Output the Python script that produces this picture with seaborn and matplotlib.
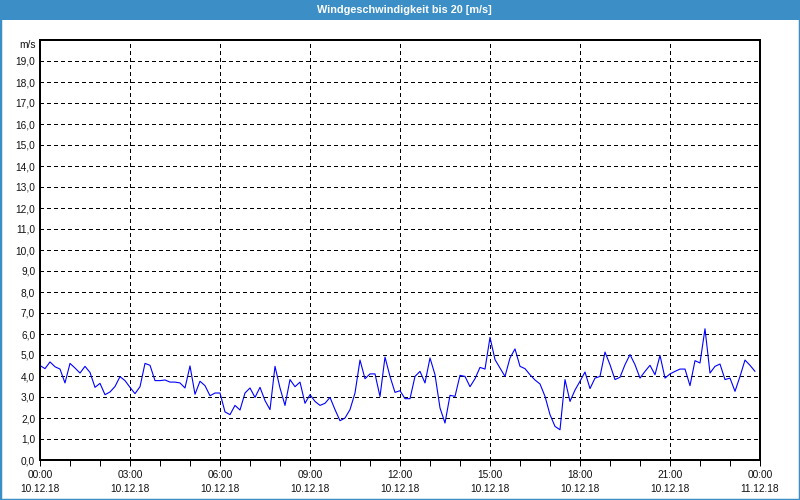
import numpy as np
import pandas as pd
import matplotlib
matplotlib.use("Agg")
import matplotlib.pyplot as plt
import matplotlib.dates as mdates
from matplotlib.patches import Rectangle
from matplotlib.ticker import FuncFormatter, MultipleLocator
import seaborn as sns

# ---- data ----
title = "Windgeschwindigkeit bis 20 [m/s]"
unit_label = "m/s"
start_time = "2018-12-10 00:00"
end_time = "2018-12-11 00:00"
interval = "10min"
speed = [
    4.50, 4.35, 4.67, 4.44, 4.33, 3.67, 4.60, 4.38, 4.14, 4.46, 4.17, 3.46,
    3.65, 3.11, 3.24, 3.50, 3.97, 3.78, 3.46, 3.16, 3.49, 4.60, 4.51, 3.78,
    3.78, 3.81, 3.71, 3.71, 3.67, 3.43, 4.48, 3.13, 3.75, 3.54, 3.06, 3.19,
    3.19, 2.29, 2.16, 2.60, 2.38, 3.19, 3.43, 2.98, 3.46, 2.83, 2.40, 4.46,
    3.43, 2.60, 3.83, 3.49, 3.71, 2.70, 3.11, 2.79, 2.60, 2.70, 2.98, 2.40,
    1.87, 2.00, 2.40, 3.19, 4.76, 3.87, 4.10, 4.10, 3.02, 4.90, 3.98, 3.22,
    3.30, 2.92, 2.92, 3.98, 4.22, 3.67, 4.86, 4.06, 2.48, 1.76, 3.08, 3.03,
    4.03, 3.98, 3.49, 3.87, 4.41, 4.33, 5.84, 4.78, 4.38, 3.98, 4.86, 5.29,
    4.46, 4.35, 4.06, 3.81, 3.62, 3.03, 2.16, 1.60, 1.44, 3.83, 2.79, 3.33,
    3.75, 4.19, 3.40, 3.90, 3.98, 5.14, 4.54, 3.83, 3.94, 4.54, 5.02, 4.54,
    3.90, 4.22, 4.51, 4.06, 4.98, 3.90, 4.10, 4.22, 4.33, 4.33, 3.54, 4.73,
    4.62, 6.25, 4.14, 4.46, 4.57, 3.83, 3.90, 3.27, 3.98, 4.76, 4.51, 4.22,
]
y_max = 20

times = pd.date_range(start_time, periods=len(speed), freq=interval)
df = pd.DataFrame({"Zeit": times, "Wind": speed})

# ---- style ----
sns.set_style("white")
plt.rcParams["font.family"] = ["Liberation Sans", "DejaVu Sans"]
FS = 7.3
LW = 0.72

BLUE_BAR = "#3b8fc6"

fig = plt.figure(figsize=(8, 5), dpi=100, facecolor="white")
ax = fig.add_axes([40 / 800, 1 - 460 / 500, 720 / 800, 420 / 500])
ax.set_facecolor("white")

sns.lineplot(data=df, x="Zeit", y="Wind", color="#0000ff", lw=0.8, ax=ax)

ax.set_xlim(pd.Timestamp(start_time), pd.Timestamp(end_time))
ax.set_ylim(0, y_max)
ax.set_xlabel("")
ax.set_ylabel("")

ax.xaxis.set_major_locator(mdates.HourLocator(byhour=range(0, 24, 3)))
ax.xaxis.set_minor_locator(mdates.HourLocator(interval=1))
ax.xaxis.set_major_formatter(mdates.DateFormatter("%H:%M\n%d.%m.%y"))
ax.yaxis.set_major_locator(MultipleLocator(1))
ax.yaxis.set_major_formatter(
    FuncFormatter(lambda v, p: "" if v >= y_max else f"{v:.1f}".replace(".", ",")))

ax.grid(True, which="major", color="black", ls=(0, (4, 4)), lw=LW,
        antialiased=False)
ax.set_axisbelow(True)

for s in ax.spines.values():
    s.set_visible(True)
    s.set_color("black")
    s.set_linewidth(1.2)
    s.set_antialiased(False)

ax.tick_params(axis="x", which="both", direction="out", length=4, width=LW,
               color="black", labelsize=FS, pad=3, bottom=True,
               labelcolor="#111111")
ax.tick_params(axis="y", which="both", length=0, labelsize=FS, pad=3.5, left=True,
               labelcolor="#111111")
for lab in ax.get_xticklabels():
    lab.set_linespacing(1.55)

# unit label
fig.text(36 / 800, 1 - 45 / 500, unit_label, ha="right", va="center", fontsize=FS,
         color="#111111")

# title bar
fig.patches.append(Rectangle((0, 1 - 20 / 500), 1, 20 / 500,
                             transform=fig.transFigure, facecolor=BLUE_BAR,
                             edgecolor="none", zorder=0))
fig.text(0.505, 1 - 10 / 500, title, ha="center", va="center", fontsize=7.8,
         color="white", fontweight="bold")
# outer frame
fig.patches.append(Rectangle((0, 0), 1, 1, transform=fig.transFigure,
                             facecolor="none", edgecolor=BLUE_BAR, lw=2.5,
                             zorder=5))

fig.savefig("out.png", dpi=100, facecolor="white")
